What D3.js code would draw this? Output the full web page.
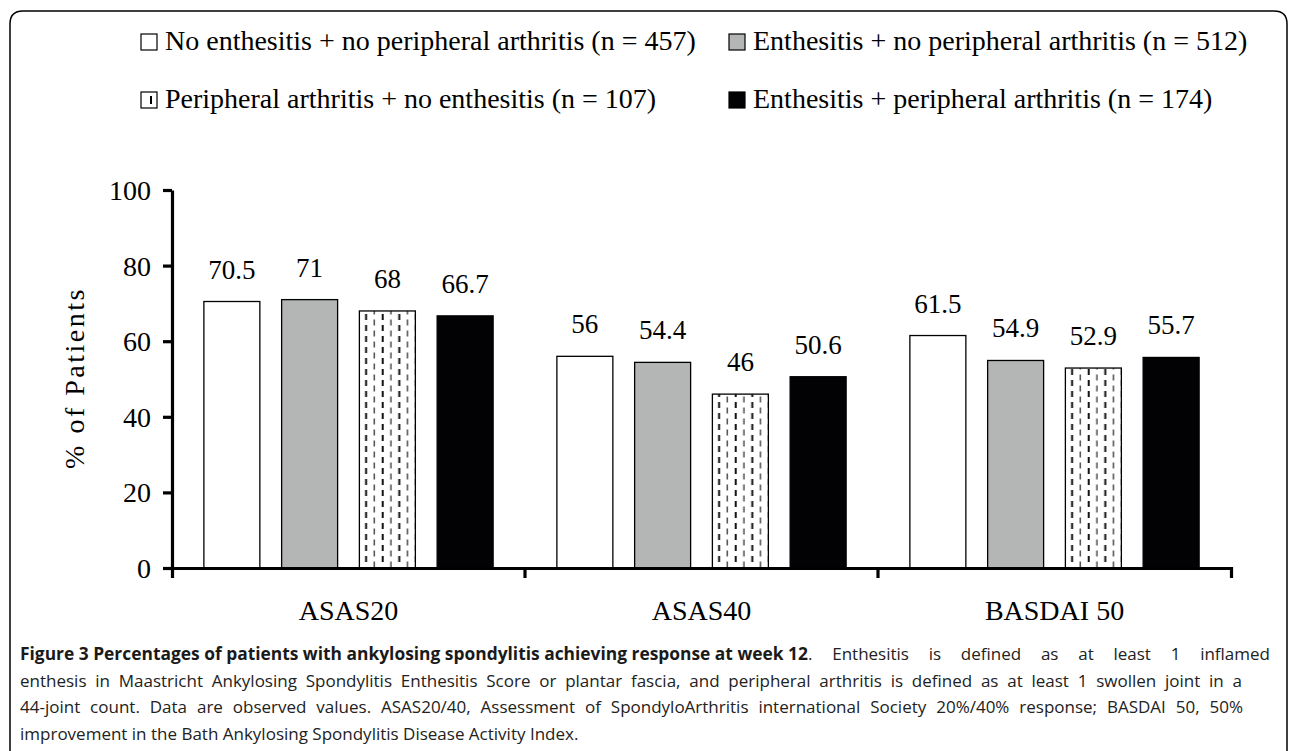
<!DOCTYPE html>
<html>
<head>
<meta charset="utf-8">
<title>Figure 3</title>
<script src="https://d3js.org/d3.v7.min.js"></script>
<style>
  body { margin: 0; background: #fff; }
  text { font-family: "Liberation Serif", "Times New Roman", serif; fill: #000; }
  .cap { font-family: "Open Sans", "Noto Sans", sans-serif; font-size: 17px; fill: #222; }
</style>
</head>
<body>
<script>
// data
var categories = ["ASAS20", "ASAS40", "BASDAI 50"];
var seriesNames = [
  "No enthesitis + no peripheral arthritis (n = 457)",
  "Enthesitis + no peripheral arthritis (n = 512)",
  "Peripheral arthritis + no enthesitis (n = 107)",
  "Enthesitis + peripheral arthritis (n = 174)"
];
var noEnthNoArth = [70.5, 56, 61.5];
var enthNoArth = [71, 54.4, 54.9];
var arthNoEnth = [68, 46, 52.9];
var enthArth = [66.7, 50.6, 55.7];
var yTicks = [0, 20, 40, 60, 80, 100];
var captionBold = "Figure 3 Percentages of patients with ankylosing spondylitis achieving response at week 12";
var captionLines = [
  ". Enthesitis is defined as at least 1 inflamed",
  "enthesis in Maastricht Ankylosing Spondylitis Enthesitis Score or plantar fascia, and peripheral arthritis is defined as at least 1 swollen joint in a",
  "44-joint count. Data are observed values. ASAS20/40, Assessment of SpondyloArthritis international Society 20%/40% response; BASDAI 50, 50%",
  "improvement in the Bath Ankylosing Spondylitis Disease Activity Index."
];

var series = [noEnthNoArth, enthNoArth, arthNoEnth, enthArth];
var fills = ["#ffffff", "#b4b6b6", "url(#dash)", "#020205"];

var W = 1290, H = 751;
var svg = d3.select("body").append("svg")
  .attr("width", W)
  .attr("height", H);

// dashed pattern for third series
var pat = svg.append("defs").append("pattern")
  .attr("id", "dash")
  .attr("patternUnits", "userSpaceOnUse")
  .attr("width", 16.6)
  .attr("height", 11)
  .attr("x", 0)
  .attr("y", 0);
pat.append("rect").attr("width", 16.6).attr("height", 11).attr("fill", "#fff");
pat.append("rect").attr("x", 2.5).attr("y", 0.5).attr("width", 1.2).attr("height", 6).attr("fill", "#222");
pat.append("rect").attr("x", 10.5).attr("y", 6).attr("width", 2).attr("height", 6).attr("fill", "#111");
pat.append("rect").attr("x", 10.5).attr("y", -5).attr("width", 2).attr("height", 6).attr("fill", "#111");

// frame
svg.append("path")
  .attr("d", "M10,760 V24 Q10,11 23,11 H1274 Q1287,11 1287,24 V760")
  .attr("fill", "none")
  .attr("stroke", "#000")
  .attr("stroke-width", 1.5);

var x0 = d3.scaleBand()
  .domain(categories)
  .range([172, 1231]);

var x1 = d3.scaleBand()
  .domain(d3.range(4))
  .range([0, x0.bandwidth()])
  .paddingInner(0.28)
  .paddingOuter(0.41);

var y = d3.scaleLinear()
  .domain([0, 100])
  .range([568, 190]);

// bars
var groups = svg.selectAll(".grp")
  .data(categories)
  .enter()
  .append("g")
  .attr("class", "grp")
  .attr("transform", function(d) { return "translate(" + x0(d) + ",0)"; });

groups.selectAll("rect")
  .data(function(d, ci) {
    return series.map(function(s, si) { return { si: si, v: s[ci] }; });
  })
  .enter()
  .append("rect")
  .attr("x", function(d) { return x1(d.si); })
  .attr("y", function(d) { return y(d.v); })
  .attr("width", x1.bandwidth())
  .attr("height", function(d) { return y(0) - y(d.v); })
  .attr("fill", function(d) { return fills[d.si]; })
  .attr("stroke", "#000")
  .attr("stroke-width", 1.3);

groups.selectAll(".val")
  .data(function(d, ci) {
    return series.map(function(s, si) { return { si: si, v: s[ci] }; });
  })
  .enter()
  .append("text")
  .attr("class", "val")
  .attr("x", function(d) { return x1(d.si) + x1.bandwidth() / 2; })
  .attr("y", function(d) { return y(d.v) - 23; })
  .attr("text-anchor", "middle")
  .style("font-size", "27px")
  .text(function(d) { return d.v; });

// y axis
var yAxis = svg.append("g")
  .attr("transform", "translate(172,0)")
  .call(d3.axisLeft(y).tickValues(yTicks).tickSize(9).tickSizeOuter(0).tickPadding(12));
yAxis.select(".domain").attr("stroke-width", 3.2);
yAxis.selectAll(".tick line").attr("stroke-width", 3.2);
yAxis.selectAll(".tick text")
  .style("font-family", "Liberation Serif")
  .style("font-size", "28px")
  .attr("dy", "0.34em");

// x axis
var xAxis = svg.append("g")
  .attr("transform", "translate(0," + y(0) + ")")
  .call(d3.axisBottom(x0).tickSizeInner(0).tickSizeOuter(10).tickPadding(32));
xAxis.select(".domain").attr("stroke-width", 3.2);
xAxis.selectAll(".tick text")
  .style("font-family", "Liberation Serif")
  .style("font-size", "28px");
xAxis.selectAll(".sep")
  .data(categories.slice(1))
  .enter()
  .append("line")
  .attr("class", "sep")
  .attr("x1", function(d) { return x0(d); })
  .attr("x2", function(d) { return x0(d); })
  .attr("y1", 0)
  .attr("y2", 10)
  .attr("stroke", "#000")
  .attr("stroke-width", 3.2);

// y title
svg.append("text")
  .attr("transform", "translate(84,378) rotate(-90)")
  .attr("text-anchor", "middle")
  .style("font-size", "28px")
  .style("letter-spacing", "2.5px")
  .text("% of Patients");

// legend
var legendPos = [[141, 50], [729, 50], [141, 108], [729, 108]];
var leg = svg.selectAll(".leg")
  .data(seriesNames)
  .enter()
  .append("g")
  .attr("class", "leg")
  .attr("transform", function(d, i) { return "translate(" + legendPos[i][0] + "," + legendPos[i][1] + ")"; });
leg.append("rect")
  .attr("x", 0)
  .attr("y", -16)
  .attr("width", 16)
  .attr("height", 16)
  .attr("fill", function(d, i) { return i == 2 ? "#fff" : fills[i]; })
  .attr("stroke", "#000")
  .attr("stroke-width", 1.2);
leg.filter(function(d, i) { return i == 2; })
  .append("rect")
  .attr("x", 9)
  .attr("y", -12)
  .attr("width", 2)
  .attr("height", 8)
  .attr("fill", "#000");
leg.append("text")
  .attr("x", 24)
  .attr("y", 0)
  .style("font-size", "28px")
  .text(function(d) { return d; });

// caption (bold lead squeezed to fit, other lines justified by word spacing)
var capY = function(i) { return 660 + i * 26.7; };
svg.append("text")
  .attr("class", "cap")
  .attr("x", 20)
  .attr("y", capY(0))
  .attr("textLength", 788)
  .attr("lengthAdjust", "spacingAndGlyphs")
  .style("font-weight", "bold")
  .style("fill", "#1a1a1a")
  .text(captionBold);

var capStart = [808, 20, 20, 20];
var capEnd = [1270, 1242, 1243, null];
svg.selectAll(".capline")
  .data(captionLines)
  .enter()
  .append("text")
  .attr("class", "cap capline")
  .attr("x", function(d, i) { return capStart[i]; })
  .attr("y", function(d, i) { return capY(i); })
  .text(function(d) { return d; })
  .each(function(d, i) {
    if (capEnd[i]) {
      var w = this.getComputedTextLength();
      var gaps = d.split(" ").length - 1;
      var ws = (capEnd[i] - capStart[i] - w) / gaps;
      d3.select(this).style("word-spacing", ws + "px");
    }
  });
</script>
</body>
</html>
